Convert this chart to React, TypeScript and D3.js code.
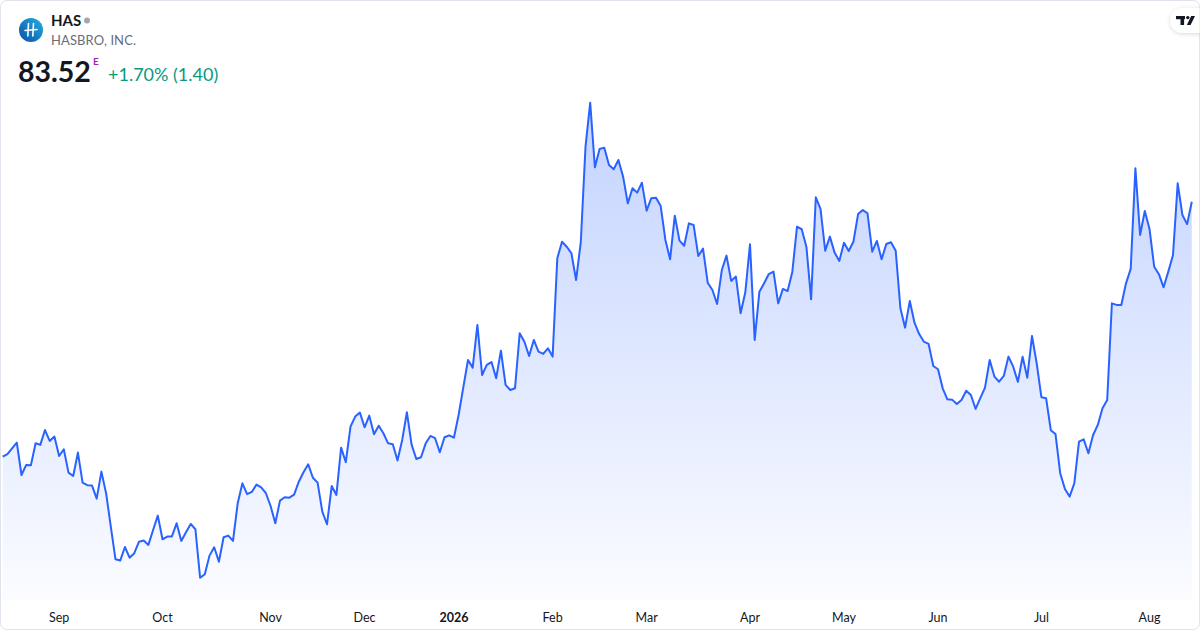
import * as d3 from "d3";

// daily closes, Aug 2025 -> Aug 2026
const closes = [
  67.59, 67.75, 68.11, 68.46, 66.44, 67.07, 67.05, 68.42, 68.32, 69.25,
  68.57, 68.84, 67.63, 68.05, 66.59, 66.38, 67.84, 65.96, 65.8, 65.78,
  64.96, 66.65, 65.3, 63.21, 61.17, 61.09, 61.94, 61.27, 61.55, 62.27,
  62.34, 62.07, 63.0, 63.9, 62.42, 62.59, 62.6, 63.42, 62.32, 62.86,
  63.38, 63.05, 60.02, 60.24, 61.4, 61.92, 61.02, 62.55, 62.65, 62.32,
  64.67, 65.92, 65.24, 65.38, 65.84, 65.67, 65.3, 64.5, 63.42, 64.84,
  65.05, 65.02, 65.21, 66.02, 66.61, 67.11, 66.27, 65.96, 64.15, 63.36,
  65.75, 65.19, 68.15, 67.24, 69.46, 70.09, 70.34, 69.42, 70.15, 68.99,
  69.52, 69.05, 68.42, 68.36, 67.34, 68.63, 70.36, 68.34, 67.44, 67.55,
  68.42, 68.88, 68.74, 67.86, 68.8, 68.92, 68.77, 70.19, 71.92, 73.63,
  73.15, 75.82, 72.69, 73.32, 73.5, 72.49, 74.21, 72.07, 71.75, 71.86,
  75.3, 74.77, 73.88, 74.88, 74.15, 74.01, 74.36, 73.84, 79.99, 81.02,
  80.71, 80.3, 78.63, 81.0, 86.96, 89.71, 85.67, 86.82, 86.9, 85.82,
  85.55, 86.13, 85.09, 83.42, 84.36, 84.09, 84.71, 82.96, 83.74, 83.77,
  83.25, 81.13, 79.92, 82.65, 81.09, 80.77, 82.17, 82.07, 80.13, 80.59,
  78.46, 78.0, 77.13, 79.25, 80.15, 78.57, 78.84, 76.55, 77.86, 80.86,
  74.88, 77.9, 78.42, 79.0, 79.15, 77.17, 78.07, 77.94, 79.13, 81.96,
  81.8, 80.71, 77.42, 83.8, 83.07, 80.46, 81.34, 80.34, 79.82, 80.96,
  80.44, 81.02, 82.75, 83.0, 82.8, 80.4, 81.07, 79.92, 80.88, 80.99,
  80.46, 76.86, 75.65, 77.32, 75.96, 75.25, 74.77, 74.63, 73.25, 73.05,
  71.86, 71.17, 71.15, 70.88, 71.13, 71.71, 71.44, 70.57, 71.24, 71.9,
  73.63, 72.59, 72.27, 72.63, 73.84, 73.21, 72.26, 73.83, 72.52, 75.13,
  73.42, 71.3, 71.24, 69.24, 69.0, 66.55, 65.57, 65.09, 65.92, 68.52,
  68.67, 67.8, 68.94, 69.57, 70.61, 71.13, 77.17, 77.07, 77.06, 78.42,
  79.32, 85.61, 81.44, 82.94, 81.82, 79.46, 78.99, 78.17, 79.15, 80.19,
  84.67, 82.69, 82.12, 83.52,
];

// index of the first session of each month and its label
const tickIndex = [12, 34, 57, 77, 96, 117, 137, 159, 179, 199, 221, 244];
const tickLabels = ["Sep", "Oct", "Nov", "Dec", "2026", "Feb", "Mar", "Apr", "May", "Jun", "Jul", "Aug"];

const symbol = "HAS";
const company = "HASBRO, INC.";
const lastPrice = "83.52";
const change = "+1.70% (1.40)";

const W = 1200;
const H = 630;
const FONT = "Lato, 'Noto Sans', sans-serif";

export default function App() {
  const x = d3.scaleLinear([0, closes.length - 1], [2.7, 1191.8]);
  const y = d3.scaleLinear(d3.extent(closes) as [number, number], [577.7, 102.7]);
  const bottom = 600;

  const line = d3.line<number>((_d, i) => x(i), (d) => y(d));
  const area = d3.area<number>((_d, i) => x(i), bottom, (d) => y(d));

  return (
    <svg
      width={W}
      height={H}
      style={{ position: "absolute", left: 0, top: 0, fontFamily: FONT }}
    >
      <defs>
        <linearGradient id="fill" gradientUnits="userSpaceOnUse" x1="0" y1="102" x2="0" y2={bottom}>
          <stop offset="0" stopColor="#2962ff" stopOpacity="0.28" />
          <stop offset="1" stopColor="#2962ff" stopOpacity="0.02" />
        </linearGradient>
        <linearGradient id="logo" x1="0" y1="1" x2="1" y2="0">
          <stop offset="0" stopColor="#0b4fa8" />
          <stop offset="1" stopColor="#22b0e0" />
        </linearGradient>
        <filter id="shadow" x="-50%" y="-50%" width="200%" height="200%">
          <feDropShadow dx="0" dy="1" stdDeviation="2" floodColor="#000" floodOpacity="0.15" />
        </filter>
        <clipPath id="frame">
          <rect x="0.5" y="0.5" width={W - 1} height={H - 1} rx="6" />
        </clipPath>
      </defs>

      <rect x="0.5" y="0.5" width={W - 1} height={H - 1} rx="6" fill="#fff" stroke="#e0e3eb" />

      <g clipPath="url(#frame)">
        <path d={area(closes) || ""} fill="url(#fill)" />
        <path d={line(closes) || ""} fill="none" stroke="#2962ff" strokeWidth="2" strokeLinejoin="round" />

        {tickIndex.map((t, i) => (
          <text
            key={tickLabels[i]}
            x={x(t)}
            y={622}
            textAnchor="middle"
            fontSize="12.5"
            fontWeight={tickLabels[i] === "2026" ? 700 : 400}
            fill="#131722"
          >
            {tickLabels[i]}
          </text>
        ))}

        {/* TradingView badge */}
        <rect x="1170" y="8" width="44" height="25" rx="12.5" fill="#fff" filter="url(#shadow)" />
        <g fill="#131722">
          <rect x="1176" y="16" width="9" height="3.2" />
          <rect x="1180.5" y="16" width="3.6" height="9" />
          <circle cx="1187.8" cy="17.6" r="1.7" />
          <path d="M1191.2 16 L1195 16 L1190.6 25 L1186.8 25 Z" />
        </g>
      </g>

      {/* header */}
      <circle cx="31" cy="30" r="12" fill="url(#logo)" />
      <g stroke="#fff" strokeWidth="1.6" strokeLinecap="round" fill="none">
        <path d="M28.5 23.5 L27.8 36" />
        <path d="M33.5 23.5 L32.8 36" />
        <path d="M25 30.5 L37 29.5" />
      </g>

      <text x="51" y="26" fontSize="15" fontWeight="700" fill="#131722">{symbol}</text>
      <circle cx="87" cy="20.5" r="3" fill="#a3a6af" />
      <text x="51" y="45" fontSize="13" fill="#6a6d78" letterSpacing="0.1">{company}</text>

      <text x="18" y="82" fontSize="28.5" fontWeight="700" fill="#131722">{lastPrice}</text>
      <text x="93" y="65" fontSize="10" fontWeight="700" fill="#9c27b0">E</text>
      <text x="108" y="81" fontSize="18" fill="#089981">{change}</text>
    </svg>
  );
}
